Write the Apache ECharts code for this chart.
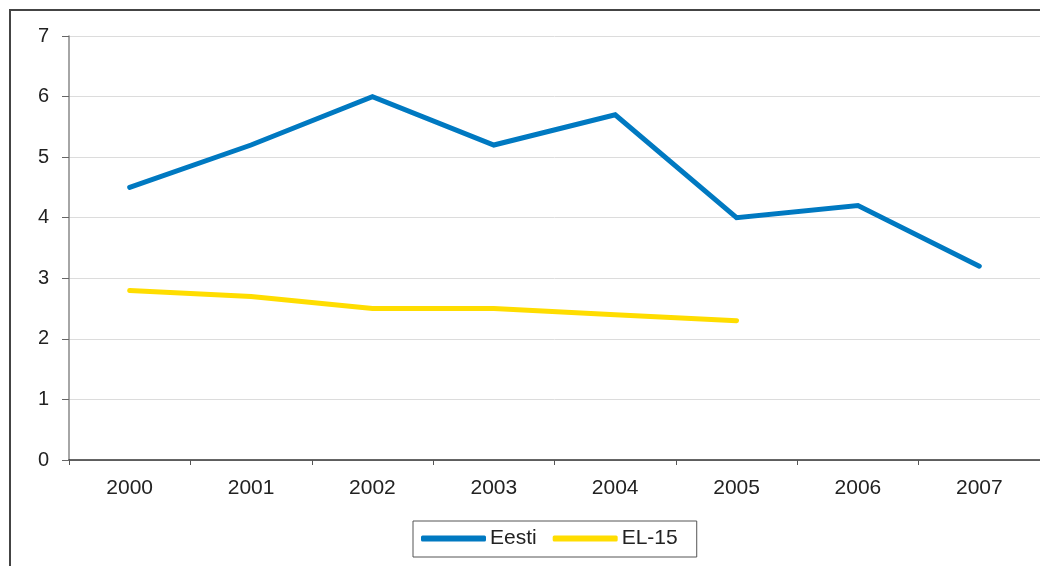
<!DOCTYPE html>
<html>
<head>
<meta charset="utf-8">
<script src="https://cdn.jsdelivr.net/npm/echarts@6/dist/echarts.min.js"></script>
<style>
  html, body { margin: 0; padding: 0; background: #fff; }
  #chart { width: 1040px; height: 566px; }
</style>
</head>
<body>
<div id="chart"></div>
<script>
// aastad ja väärtused
const years = ['2000', '2001', '2002', '2003', '2004', '2005', '2006', '2007']
const eesti = [4.5, 5.2, 6.0, 5.2, 5.7, 4.0, 4.2, 3.2]
const el15 = [2.8, 2.7, 2.5, 2.5, 2.4, 2.3, null, null]
const yTicks = [0, 1, 2, 3, 4, 5, 6, 7]

const font = 'Liberation Sans, Arial, sans-serif'
const myChart = echarts.init(document.getElementById('chart'))

const option = {
  animation: false,
  color: ['#0079C1', '#FFDD00'],
  textStyle: { fontFamily: font },
  graphic: [
    {
      // välisraam
      type: 'rect',
      shape: { x: 10, y: 10, width: 1100, height: 600 },
      style: { fill: 'none', stroke: '#444', lineWidth: 2 },
      silent: true
    }
  ],
  grid: { left: 69, top: 36, right: 0, bottom: 106 },
  legend: {
    left: 413,
    top: 521,
    orient: 'horizontal',
    itemWidth: 65,
    itemHeight: 6,
    itemGap: 16,
    padding: [7, 19, 8, 8],
    borderColor: '#555',
    borderWidth: 1,
    icon: 'roundRect',
    textStyle: { fontSize: 21, color: '#222', fontFamily: font, padding: [0, 0, 0, -1] },
    data: ['Eesti', 'EL-15']
  },
  xAxis: {
    type: 'category',
    data: years,
    boundaryGap: true,
    axisLine: { lineStyle: { color: '#333', width: 1.5 } },
    axisTick: { show: true, interval: 0, length: 5, lineStyle: { color: '#555' } },
    axisLabel: { color: '#222', fontSize: 21, margin: 18, fontFamily: font },
    splitLine: { show: false }
  },
  yAxis: {
    type: 'value',
    min: yTicks[0],
    max: yTicks[yTicks.length - 1],
    interval: 1,
    axisLine: { show: true, lineStyle: { color: '#888', width: 1.5 } },
    axisTick: { show: true, length: 7, lineStyle: { color: '#666' } },
    axisLabel: { color: '#222', fontSize: 20, margin: 20, fontFamily: font },
    splitLine: { lineStyle: { color: '#dcdcdc', width: 1 } }
  },
  series: [
    {
      name: 'Eesti',
      type: 'line',
      data: eesti,
      showSymbol: false,
      symbol: 'none',
      lineStyle: { width: 5, cap: 'round', join: 'miter' }
    },
    {
      name: 'EL-15',
      type: 'line',
      data: el15,
      showSymbol: false,
      symbol: 'none',
      lineStyle: { width: 5, cap: 'round', join: 'miter' }
    }
  ]
}
myChart.setOption(option, true)
</script>
</body>
</html>
